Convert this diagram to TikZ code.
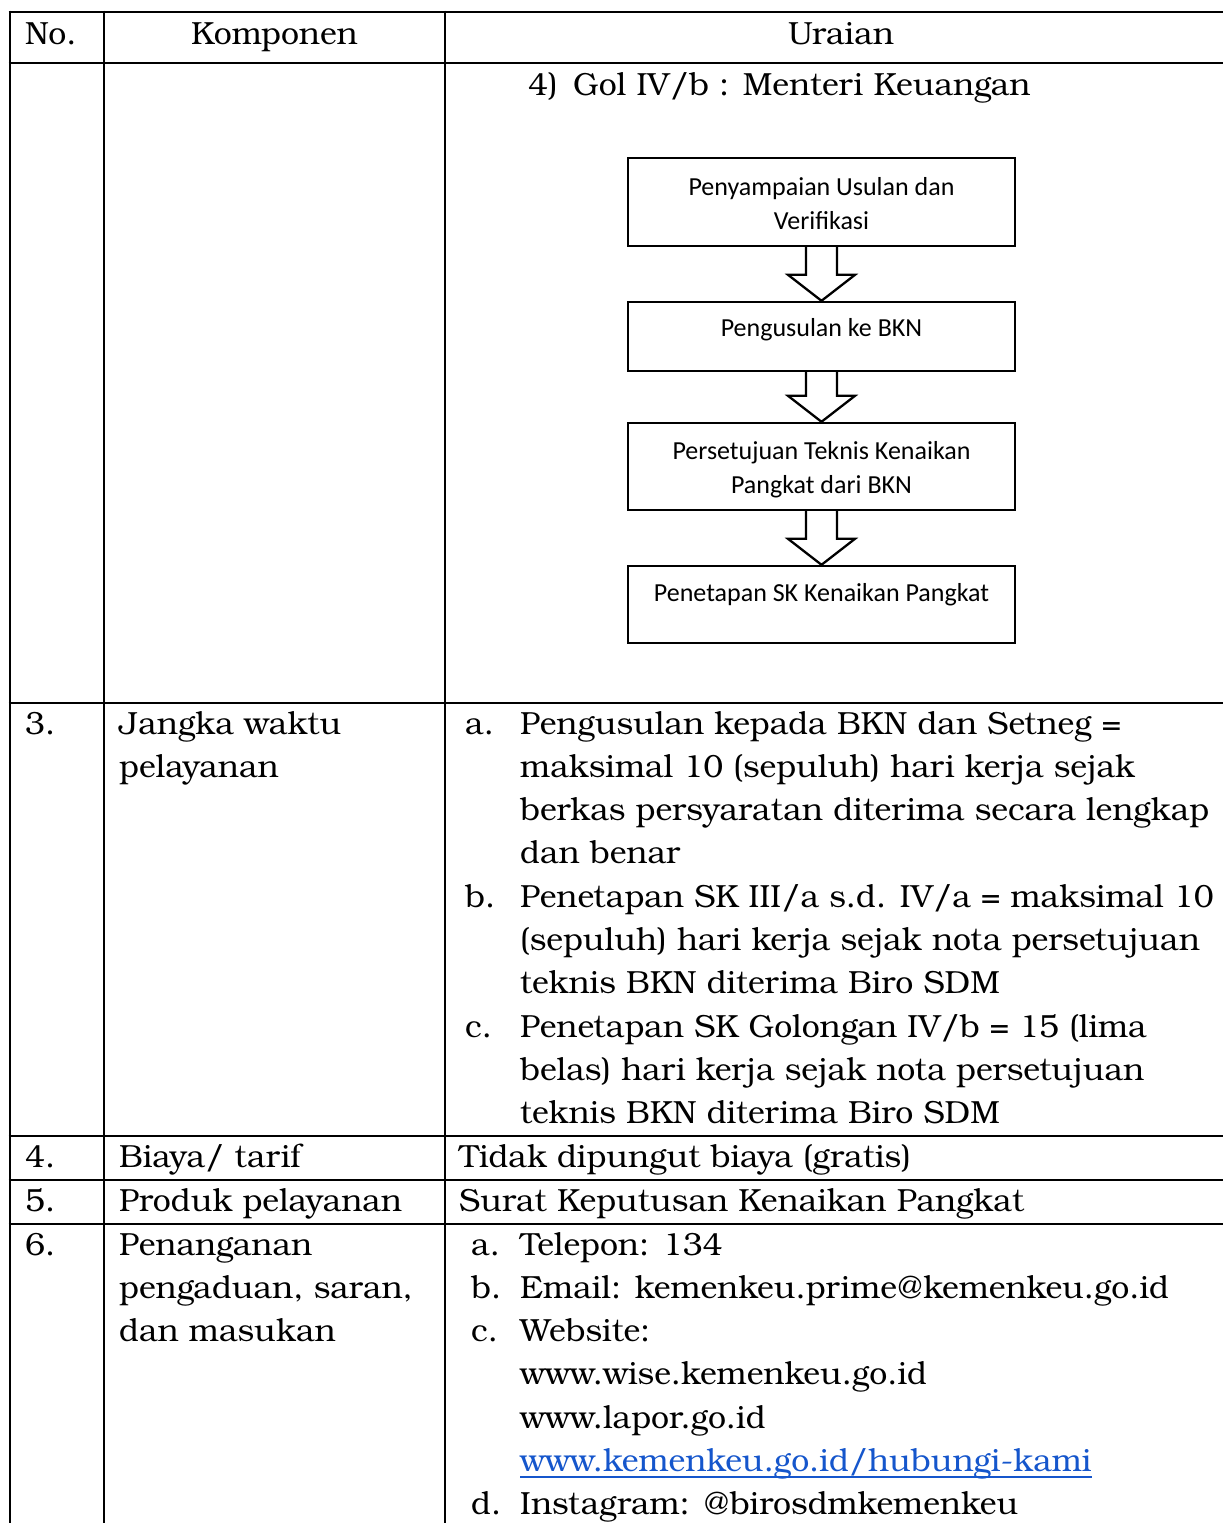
\documentclass[tikz,border=0pt]{standalone}
\usepackage{fontspec}
\IfFontExistsTF{TeX Gyre Bonum}{\setmainfont{TeX Gyre Bonum}}{\setmainfont{Liberation Serif}}
\newfontfamily\flowfont{Carlito}
\usetikzlibrary{calc}
\definecolor{linkblue}{RGB}{21,86,204}
\newcommand\mainsz{\fontsize{32}{43.3}\selectfont}
\newcommand\flowsz{\flowfont\fontsize{26}{34}\selectfont}
\newcommand\blockarrow[2]{%
  \draw[blk] let \p1=(#1.south), \p2=(#2.north) in
    (\x1-15.5pt,\y1) -- (\x1-15.5pt,\y2+26pt) -- (\x1-33.5pt,\y2+26pt) -- (\x1,\y2)
    -- (\x1+33.5pt,\y2+26pt) -- (\x1+15.5pt,\y2+26pt) -- (\x1+15.5pt,\y1);}
\begin{document}
\begin{tikzpicture}[x=1pt,y=-1pt,
  txt/.style={anchor=base west,inner sep=0pt,font=\mainsz},
  ctxt/.style={anchor=base,inner sep=0pt,font=\mainsz},
  rule/.style={line width=2.6pt},
  box/.style={draw,line width=2.4pt,minimum width=387pt,inner sep=0pt,font=\flowsz,align=center},
  blk/.style={line width=2.3pt,line join=miter}]
\useasboundingbox[fill=white] (0,0) rectangle (1223,1523);

% table rules
\foreach \yy in {12,63,703,1136,1180,1224} \draw[rule] (8.7,\yy) -- (1223,\yy);
\foreach \xx in {10,104,445} \draw[rule] (\xx,10.7) -- (\xx,1523);

% header
\node[txt] (hno) at (25,44) {No.};
\node[ctxt] (hkomp) at (274.5,44) {Komponen};
\node[ctxt] (hura) at (841,44) {Uraian};

% row 2
\node[txt] (r2n) at (528,95) {4)};
\node[txt] (r2t) at (573,95) {Gol IV/b : Menteri Keuangan};

% flowchart
\node[box,minimum height=88pt] (b1) at (821.5,202) {\raisebox{-4pt}[\height][\depth]{\begin{tabular}{@{}c@{}}Penyampaian Usulan dan\\Verifikasi\end{tabular}}};
\node[box,minimum height=69pt,text height=18pt,text depth=18pt] (b2) at (821.5,336.5) {Pengusulan ke BKN};
\node[box,minimum height=87pt] (b3) at (821.5,466.5) {\raisebox{-3.5pt}[\height][\depth]{\begin{tabular}{@{}c@{}}Persetujuan Teknis Kenaikan\\Pangkat dari BKN\end{tabular}}};
\node[box,minimum height=77pt,text height=18pt,text depth=25pt] (b4) at (821.5,604.5) {Penetapan SK Kenaikan Pangkat};
\blockarrow{b1}{b2}
\blockarrow{b2}{b3}
\blockarrow{b3}{b4}

% row 3
\node[txt] (n3) at (25,734) {3.};
\node[txt] (k3a) at (119,734) {Jangka waktu};
\node[txt] (k3b) at (119,777.3) {pelayanan};
\node[txt] (u3la) at (465,734) {a.};
\node[txt] (u3a1) at (520,734) {Pengusulan kepada BKN dan Setneg =};
\node[txt] (u3a2) at (520,777.3) {maksimal 10 (sepuluh) hari kerja sejak};
\node[txt] (u3a3) at (520,820.6) {berkas persyaratan diterima secara lengkap};
\node[txt] (u3a4) at (520,863.9) {dan benar};
\node[txt] (u3lb) at (465,907.2) {b.};
\node[txt] (u3b1) at (520,907.2) {Penetapan SK III/a s.d. IV/a = maksimal 10};
\node[txt] (u3b2) at (520,950.5) {(sepuluh) hari kerja sejak nota persetujuan};
\node[txt] (u3b3) at (520,993.8) {teknis BKN diterima Biro SDM};
\node[txt] (u3lc) at (465,1037.1) {c.};
\node[txt] (u3c1) at (520,1037.1) {Penetapan SK Golongan IV/b = 15 (lima};
\node[txt] (u3c2) at (520,1080.4) {belas) hari kerja sejak nota persetujuan};
\node[txt] (u3c3) at (520,1123.7) {teknis BKN diterima Biro SDM};

% row 4
\node[txt] (n4) at (25,1167) {4.};
\node[txt] (k4) at (119,1167) {Biaya/ tarif};
\node[txt] (u4) at (459,1167) {Tidak dipungut biaya (gratis)};

% row 5
\node[txt] (n5) at (25,1211) {5.};
\node[txt] (k5) at (119,1211) {Produk pelayanan};
\node[txt] (u5) at (459,1211) {Surat Keputusan Kenaikan Pangkat};

% row 6
\node[txt] (n6) at (25,1255) {6.};
\node[txt] (k6a) at (119,1255) {Penanganan};
\node[txt] (k6b) at (119,1298.3) {pengaduan, saran,};
\node[txt] (k6c) at (119,1341.6) {dan masukan};
\node[txt] (u6la) at (471,1255) {a.};
\node[txt] (u6a) at (520,1255) {Telepon: 134};
\node[txt] (u6lb) at (471,1298.3) {b.};
\node[txt] (u6b) at (520,1298.3) {Email: kemenkeu.prime@kemenkeu.go.id};
\node[txt] (u6lc) at (471,1341.6) {c.};
\node[txt] (u6c1) at (520,1341.6) {Website:};
\node[txt] (u6c2) at (520,1384.9) {www.wise.kemenkeu.go.id};
\node[txt] (u6c3) at (520,1428.2) {www.lapor.go.id};
\node[txt,text=linkblue] (u6c4) at (520,1471.5) {www.kemenkeu.go.id/hubungi-kami};
\draw[linkblue,line width=1.6pt] ([yshift=-5.5pt]u6c4.base west) -- ([yshift=-5.5pt]u6c4.base east);
\node[txt] (u6ld) at (471,1514.8) {d.};
\node[txt] (u6d) at (520,1514.8) {Instagram: @birosdmkemenkeu};
\end{tikzpicture}
\end{document}
